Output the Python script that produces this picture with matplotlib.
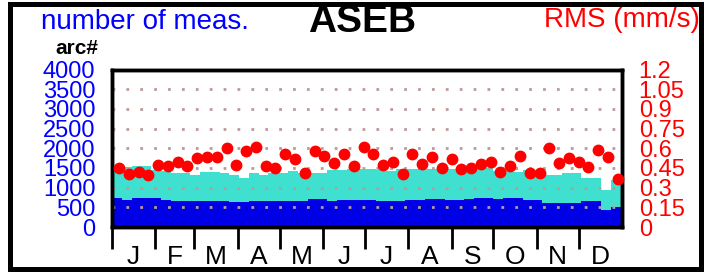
import numpy as np
import matplotlib
matplotlib.use("Agg")
import matplotlib.pyplot as plt
from matplotlib.patches import Rectangle
from matplotlib.transforms import blended_transform_factory

plt.rcParams['font.family'] = ['Liberation Sans', 'DejaVu Sans']

# weekly totals (turquoise), arcs (blue) and RMS (red dots)
total_meas = [1548, 1520, 1560, 1550, 1450, 1420, 1380, 1380, 1330, 1390, 1390, 1360, 1320,
              1240, 1380, 1330, 1360, 1360, 1420, 1380, 1370, 1380, 1460, 1450, 1470, 1470,
              1470, 1450, 1420, 1470, 1480, 1480, 1480, 1470, 1470, 1480, 1500, 1510, 1500,
              1430, 1430, 1400, 1450, 1320, 1320, 1320, 1360, 1360, 1240, 1240, 950, 1200]
arcs = [730, 690, 740, 730, 740, 680, 650, 650, 670, 650, 660, 660, 640,
        640, 670, 665, 650, 650, 660, 660, 710, 700, 670, 680, 690, 690,
        690, 665, 665, 670, 690, 690, 710, 700, 675, 675, 710, 740, 735,
        700, 725, 725, 690, 690, 600, 600, 610, 620, 660, 660, 440, 500]
rms = [0.452, 0.404, 0.417, 0.396, 0.474, 0.462, 0.495, 0.467, 0.525, 0.533, 0.533, 0.604, 0.474,
       0.581, 0.612, 0.464, 0.449, 0.553, 0.518, 0.411, 0.579, 0.541, 0.490, 0.558, 0.462, 0.612,
       0.558, 0.474, 0.497, 0.406, 0.553, 0.480, 0.533, 0.449, 0.520, 0.442, 0.447, 0.480, 0.492,
       0.421, 0.462, 0.543, 0.409, 0.414, 0.599, 0.485, 0.523, 0.497, 0.459, 0.586, 0.533, 0.368]

months = ['J', 'F', 'M', 'A', 'M', 'J', 'J', 'A', 'S', 'O', 'N', 'D']
month_days = [31, 28, 31, 30, 31, 30, 31, 31, 30, 31, 30, 31]
left_ticks = [0, 500, 1000, 1500, 2000, 2500, 3000, 3500, 4000]
right_ticks = ['0', '0.15', '0.3', '0.45', '0.6', '0.75', '0.9', '1.05', '1.2']

nweek = len(rms)
edges = np.append(np.arange(nweek) * 7, 365)
dot_day = np.arange(nweek) * 7 + 5
month_start = np.concatenate([[0], np.cumsum(month_days)[:-1]])
month_mid = month_start + np.array(month_days) / 2

blue = '#0000e6'
turq = '#40e0d0'

fig = plt.figure(figsize=(7.04, 2.72), dpi=100)
ax = fig.add_axes([112 / 704, 45 / 272, 510 / 704, 157.5 / 272])
ax.stairs(total_meas, edges, baseline=0, fill=True, color=turq, zorder=1)
ax.stairs(arcs, edges, baseline=0, fill=True, color=blue, zorder=2)
for v in left_ticks[1:-1]:
    ax.axhline(v, color='#bc9a9a', lw=2.0, ls=(0, (1, 4)), zorder=3)
ax.set_xlim(0, 365)
ax.set_ylim(0, 4000)
ax.set_yticks(left_ticks)
ax.tick_params(axis='y', length=0, pad=12, labelsize=17, labelcolor='#0000ff')
ax.set_xticks(month_start)
ax.set_xticklabels([])
ax.tick_params(axis='x', length=16, width=2, direction='out')
trans = blended_transform_factory(ax.transData, ax.transAxes)
for m, x in zip(months, month_mid):
    ax.text(x, -0.235, m, transform=trans, ha='center', va='baseline', fontsize=19)
for s in ax.spines.values():
    s.set_linewidth(2.5)
    s.set_zorder(10)

ax2 = ax.twinx()
ax2.set_ylim(0, 1.2)
ax2.plot(dot_day, rms, 'o', color='#ff0000', ms=7.5, zorder=5, clip_on=False)
ax2.set_yticks(np.arange(9) * 0.15)
ax2.set_yticklabels(right_ticks)
ax2.tick_params(axis='y', length=0, pad=12, labelsize=17, labelcolor='#ff0000')
for s in ax2.spines.values():
    s.set_linewidth(2.5)

fig.text(145 / 704, 1 - 22 / 272, 'number of meas.', color='#0000ff', fontsize=20,
         ha='center', va='center')
fig.text(362 / 704, 1 - 22 / 272, 'ASEB', color='black', fontsize=28, fontweight='bold',
         ha='center', va='center')
fig.text(622 / 704, 1 - 20 / 272, 'RMS (mm/s)', color='#ff0000', fontsize=20,
         ha='center', va='center')
fig.text(77 / 704, 1 - 48 / 272, 'arc#', color='black', fontsize=15, fontweight='bold',
         ha='center', va='center')

fig.patches.append(Rectangle((9.5 / 704, 3.5 / 272), 691 / 704, 265 / 272, fill=False,
                             ec='black', lw=3.6, transform=fig.transFigure, figure=fig))

fig.savefig('out.png', dpi=100)
